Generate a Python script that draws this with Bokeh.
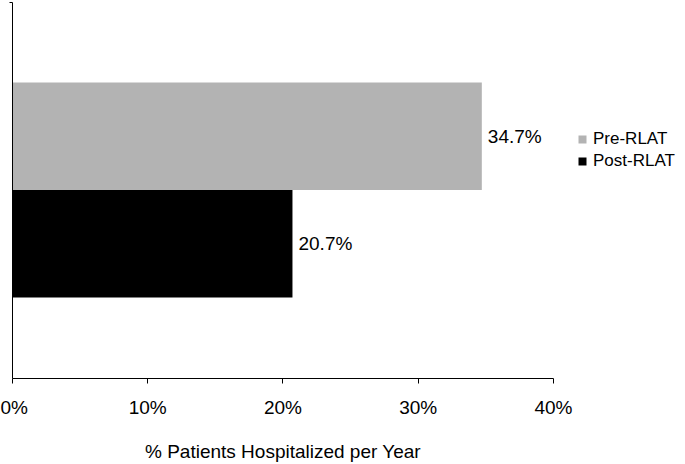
from bokeh.plotting import figure
from bokeh.models import (Range1d, FixedTicker, PrintfTickFormatter, Legend, LegendItem,
                          ColumnDataSource, LinearAxis)
from bokeh.core.properties import value
from bokeh.embed import file_html
from bokeh.resources import INLINE

categories = ["Pre-RLAT", "Post-RLAT"]
values = [34.7, 20.7]
colors = ["#b3b3b3", "#000000"]
value_labels = ["34.7%", "20.7%"]
x_ticks = [0, 10, 20, 30, 40]
x_title = "% Patients Hospitalized per Year"

FONT = "Liberation Sans"
n = len(categories)
ys = [n - 1 - i + 0.5 for i in range(n)]

src = ColumnDataSource(dict(y=ys, v=values, c=colors, lab=value_labels, cat=categories))

p = figure(width=685, height=464, output_backend="svg", toolbar_location=None,
           x_range=Range1d(0, 49.76), y_range=Range1d(-0.7535, 2.744),
           min_border_left=12, min_border_right=0, min_border_top=2, min_border_bottom=86)
p.outline_line_color = None
p.xgrid.visible = False
p.ygrid.visible = False
p.background_fill_color = "white"
p.border_fill_color = "white"

r = p.hbar(y="y", right="v", left=0, height=1.0, fill_color="c", line_color=None, source=src)
p.text(x="v", y="y", text="lab", source=src, x_offset=6, text_baseline="middle",
       text_align="left", text_font=value(FONT), text_font_size="19px", text_color="black")

xa = p.xaxis[0]
xa.ticker = FixedTicker(ticks=x_ticks)
xa.bounds = (x_ticks[0], x_ticks[-1])
xa.formatter = PrintfTickFormatter(format="%d%%")
xa.major_tick_out = 5
xa.major_tick_in = 0
xa.minor_tick_line_color = None
xa.axis_line_color = "black"
xa.major_tick_line_color = "black"
xa.major_label_text_font = FONT
xa.major_label_text_font_size = "19px"
xa.major_label_text_color = "black"
xa.major_label_standoff = 13

# axis title: centred under the axis span, drawn as a second (line-less) axis
title_x = (x_ticks[0] + x_ticks[-1]) / 2
ta = LinearAxis(ticker=FixedTicker(ticks=[title_x]),
                major_label_overrides={title_x: x_title},
                axis_line_color=None, major_tick_line_color=None, minor_tick_line_color=None,
                major_tick_out=0, major_tick_in=0, major_label_standoff=20,
                major_label_text_font=FONT, major_label_text_font_size="19px",
                major_label_text_color="black")
p.add_layout(ta, "below")

ya = p.yaxis[0]
top_tick = 2.744
ya.ticker = FixedTicker(ticks=[top_tick])
ya.major_label_overrides = {top_tick: ""}
ya.major_tick_out = 3
ya.major_tick_in = 0
ya.minor_tick_line_color = None
ya.major_label_standoff = 0
ya.axis_line_color = "black"
ya.major_tick_line_color = "black"

items = [LegendItem(label=categories[i], renderers=[r], index=i) for i in range(n)]
leg = Legend(items=items, location=(565, 206), orientation="vertical",
             glyph_width=10, glyph_height=10, label_height=22, label_standoff=6,
             spacing=0, padding=0, margin=0, border_line_color=None,
             background_fill_alpha=0, label_text_font=FONT, label_text_font_size="17px",
             label_text_color="black")
p.add_layout(leg)

open("out.html", "w").write(file_html(p, INLINE))
